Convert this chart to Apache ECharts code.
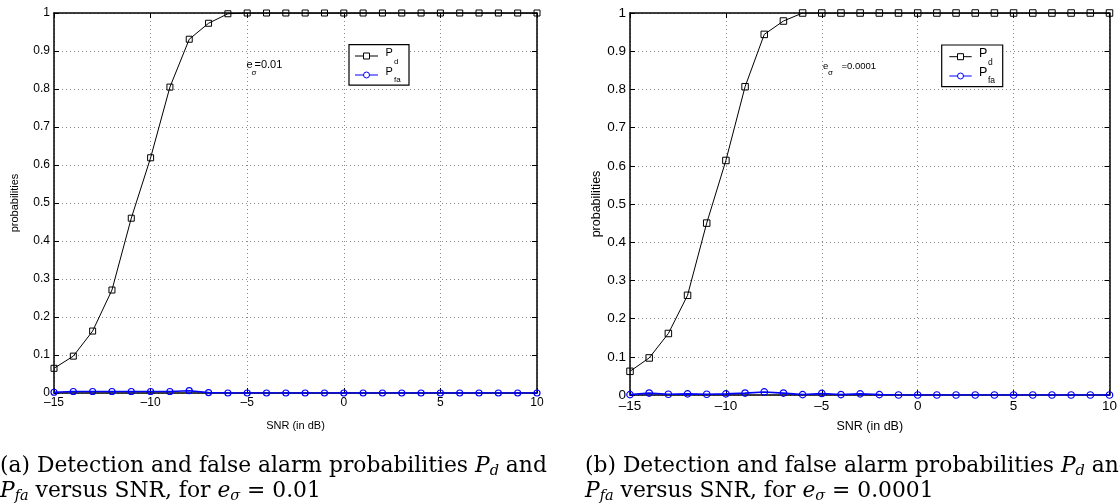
<!DOCTYPE html>
<html>
<head>
<meta charset="utf-8">
<script src="https://cdn.jsdelivr.net/npm/echarts@6/dist/echarts.min.js"></script>
<style>
html,body{margin:0;padding:0;background:#fff;}
#chart{width:1120px;height:504px;}
</style>
</head>
<body>
<div id="chart"></div>
<script>
// ---- data ----
var snr = [-15,-14,-13,-12,-11,-10,-9,-8,-7,-6,-5,-4,-3,-2,-1,0,1,2,3,4,5,6,7,8,9,10];
var pdA = [0.065,0.097,0.163,0.271,0.460,0.619,0.805,0.931,0.973,0.998,1,1,1,1,1,1,1,1,1,1,1,1,1,1,1,1];
var pfaA = [0.002,0.004,0.004,0.004,0.004,0.004,0.004,0.006,0.001,0,0,0,0,0,0,0,0,0,0,0,0,0,0,0,0,0];
var pdB = [0.062,0.097,0.161,0.261,0.450,0.614,0.807,0.944,0.979,1,1,1,1,1,1,1,1,1,1,1,1,1,1,1,1,1];
var pfaB = [0.001,0.005,0.002,0.003,0.002,0.003,0.005,0.008,0.005,0.001,0.004,0.001,0.003,0.001,0,0,0,0,0,0,0,0,0,0,0,0];
var xTicks = [-15,-10,-5,0,5,10];
var yTicks = [0,0.1,0.2,0.3,0.4,0.5,0.6,0.7,0.8,0.9,1];
var xTitle = 'SNR (in dB)';
var yTitle = 'probabilities';
var annA = '=0.01', annB = '=0.0001';
var capA1 = '(a) Detection and false alarm probabilities ';
var capB1 = '(b) Detection and false alarm probabilities ';
var capA2 = ' versus SNR, for ';
var capValA = ' = 0.01', capValB = ' = 0.0001';

function zip(xs, ys){ return xs.map(function(x,i){ return [x, ys[i]]; }); }

var SANS = "'Liberation Sans', Arial, Helvetica, sans-serif";
var SERIF = "'DejaVu Serif', serif";
var gridColor = '#8a8a8a';

function xFmt(v){ return v < 0 ? '\u2013' + Math.abs(v) : String(v); }
function yFmt(v){ return String(Math.round(v*10)/10); }

function mkAxesX(gi, fs, gap){
  return [
    {gridIndex:gi, type:'value', position:'bottom', min:xTicks[0], max:xTicks[xTicks.length-1], interval:5,
     axisLine:{onZero:false, lineStyle:{color:'#000', width:1.5}},
     axisTick:{inside:true, length:5, lineStyle:{color:'#000'}},
     axisLabel:{formatter:xFmt, color:'#000', fontFamily:SANS, fontSize:fs, margin:4},
     splitLine:{show:true, lineStyle:{color:gridColor, type:[1,3], width:1}},
     name:xTitle, nameLocation:'middle', nameGap:gap, nameTextStyle:{color:'#000', fontFamily:SANS, fontSize:fs-1}},
    {gridIndex:gi, type:'value', position:'top', min:xTicks[0], max:xTicks[xTicks.length-1], interval:5,
     axisLine:{onZero:false, lineStyle:{color:'#000', width:1.5}},
     axisTick:{inside:true, length:5, lineStyle:{color:'#000'}},
     axisLabel:{show:false}, splitLine:{show:false}}
  ];
}
function mkAxesY(gi, fs, gap){
  return [
    {gridIndex:gi, type:'value', position:'left', min:0, max:1, interval:0.1,
     axisLine:{onZero:false, lineStyle:{color:'#000', width:1.5}},
     axisTick:{inside:true, length:5, lineStyle:{color:'#000'}},
     axisLabel:{formatter:yFmt, color:'#000', fontFamily:SANS, fontSize:fs, margin:4},
     splitLine:{show:true, lineStyle:{color:gridColor, type:[1,3], width:1}},
     name:yTitle, nameLocation:'middle', nameGap:gap, nameTextStyle:{color:'#000', fontFamily:SANS, fontSize:fs-1}},
    {gridIndex:gi, type:'value', position:'right', min:0, max:1, interval:0.1,
     axisLine:{onZero:false, lineStyle:{color:'#000', width:1.5}},
     axisTick:{inside:true, length:5, lineStyle:{color:'#000'}},
     axisLabel:{show:false}, splitLine:{show:false}}
  ];
}

function pdSeries(xi, yi, data, sz){
  return {type:'line', xAxisIndex:xi, yAxisIndex:yi, data:data, symbol:'rect', symbolSize:sz,
    itemStyle:{color:'none', borderColor:'#000', borderWidth:1},
    lineStyle:{color:'#000', width:1}, z:3, silent:true};
}
function pfaSeries(xi, yi, data, sz){
  return {type:'line', xAxisIndex:xi, yAxisIndex:yi, data:data, symbol:'circle', symbolSize:sz,
    itemStyle:{color:'none', borderColor:'#0000ff', borderWidth:1.2},
    lineStyle:{color:'#0000ff', width:1.6}, z:4, silent:true};
}

function legendGroup(bx, by, bw, bh, lx0, lx1, y1, y2, px, sx, fs, sfs, msz){
  var mx = (lx0+lx1)/2;
  return [
    {type:'rect', shape:{x:bx, y:by, width:bw, height:bh}, style:{fill:'#fff', stroke:'#000', lineWidth:1.2}, z:10},
    {type:'line', shape:{x1:lx0, y1:y1, x2:lx1, y2:y1}, style:{stroke:'#000', lineWidth:1}, z:11},
    {type:'rect', shape:{x:mx-msz/2, y:y1-msz/2, width:msz, height:msz}, style:{fill:'#fff', stroke:'#000', lineWidth:1}, z:12},
    {type:'line', shape:{x1:lx0, y1:y2, x2:lx1, y2:y2}, style:{stroke:'#0000ff', lineWidth:1}, z:11},
    {type:'circle', shape:{cx:mx, cy:y2, r:msz/2}, style:{fill:'#fff', stroke:'#0000ff', lineWidth:1}, z:12},
    {type:'text', x:px, y:y1-3.5, style:{text:'P', font:fs+'px '+SANS, fill:'#000', align:'left', verticalAlign:'middle'}, z:12},
    {type:'text', x:sx, y:y1+6, style:{text:'d', font:sfs+'px '+SANS, fill:'#000', align:'left', verticalAlign:'middle'}, z:12},
    {type:'text', x:px, y:y2-3.5, style:{text:'P', font:fs+'px '+SANS, fill:'#000', align:'left', verticalAlign:'middle'}, z:12},
    {type:'text', x:sx, y:y2+5, style:{text:'fa', font:sfs+'px '+SANS, fill:'#000', align:'left', verticalAlign:'middle'}, z:12}
  ];
}

function annot(ex, y, sx, tx, txt, fs, sfs){
  return [
    {type:'text', x:ex, y:y, style:{text:'e', font:fs+'px '+SANS, fill:'#000', align:'left', verticalAlign:'middle'}, z:12},
    {type:'text', x:sx, y:y+7, style:{text:'\u03c3', font:sfs+'px '+SANS, fill:'#000', align:'left', verticalAlign:'middle'}, z:12},
    {type:'text', x:tx, y:y, style:{text:txt, font:fs+'px '+SANS, fill:'#000', align:'left', verticalAlign:'middle'}, z:12}
  ];
}

var CFS = 21.8;
var capRich = {
  i:{fontFamily:SERIF, fontStyle:'italic', fontSize:CFS, lineHeight:26, verticalAlign:'middle'},
  s:{fontFamily:SERIF, fontStyle:'italic', fontSize:14.5, lineHeight:14, verticalAlign:'bottom'}
};
function caption(x, y, line1, line2){
  return [
    {type:'text', x:x, y:y, style:{text:line1, fontFamily:SERIF, fontSize:CFS, lineHeight:26, fill:'#000', align:'left', verticalAlign:'middle', rich:capRich}},
    {type:'text', x:x, y:y+25, style:{text:line2, fontFamily:SERIF, fontSize:CFS, lineHeight:26, fill:'#000', align:'left', verticalAlign:'middle', rich:capRich}}
  ];
}

var graphics = []
  .concat(legendGroup(349, 44.7, 60, 40.5, 355, 378, 56, 75, 385.5, 394, 11, 8, 6))
  .concat(legendGroup(941.7, 45, 61, 41.7, 949.3, 971.7, 56.7, 76, 979, 988, 12.5, 8.5, 6))
  .concat(annot(246.5, 65.3, 251.5, 254.5, annA, 11, 8))
  .concat(annot(823, 66, 828, 841.5, annB, 9.5, 8))
  .concat(caption(0, 466, capA1 + '{i|P}{s|d} and', '{i|P}{s|fa}' + capA2 + '{i|e}{s|\u03c3}' + capValA))
  .concat(caption(585, 466, capB1 + '{i|P}{s|d} and', '{i|P}{s|fa}' + capA2 + '{i|e}{s|\u03c3}' + capValB));

var option = {
  animation:false,
  backgroundColor:'#fff',
  grid:[
    {left:54, top:13, width:483, height:380},
    {left:630, top:13, width:485, height:382}
  ],
  xAxis: mkAxesX(0, 12, 27).concat(mkAxesX(1, 13.5, 25)),
  yAxis: mkAxesY(0, 12, 34).concat(mkAxesY(1, 13.5, 27)),
  series:[
    pdSeries(0, 0, zip(snr, pdA), 6),
    pfaSeries(0, 0, zip(snr, pfaA), 6),
    pdSeries(2, 2, zip(snr, pdB), 6.5),
    pfaSeries(2, 2, zip(snr, pfaB), 6.5)
  ],
  graphic: graphics
};

var chart = echarts.init(document.getElementById('chart'), null, {renderer:'canvas'});
chart.setOption(option);
</script>
</body>
</html>
